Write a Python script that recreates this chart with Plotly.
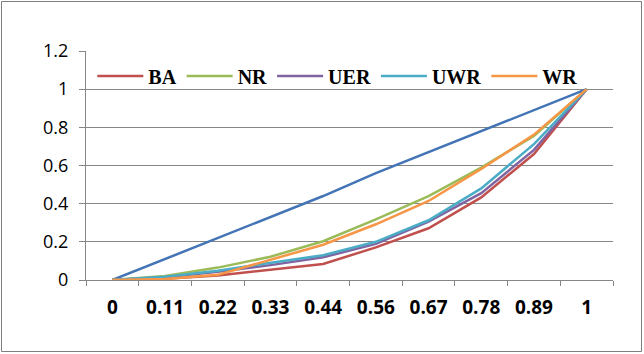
import plotly.graph_objects as go

# Cumulative population share (category labels on the x axis)
categories = ["0", "0.11", "0.22", "0.33", "0.44", "0.56", "0.67", "0.78", "0.89", "1"]

# Line of perfect equality
equality = [0, 0.11, 0.22, 0.33, 0.44, 0.56, 0.67, 0.78, 0.89, 1]

# Lorenz curves for each scheme
ba = [0, 0.007, 0.024, 0.055, 0.084, 0.171, 0.271, 0.433, 0.660, 1]
nr = [0, 0.021, 0.065, 0.122, 0.203, 0.318, 0.440, 0.589, 0.755, 1]
uer = [0, 0.014, 0.043, 0.078, 0.119, 0.189, 0.306, 0.455, 0.682, 1]
uwr = [0, 0.017, 0.049, 0.090, 0.130, 0.200, 0.313, 0.480, 0.712, 1]
wr = [0, 0.005, 0.027, 0.105, 0.185, 0.292, 0.414, 0.582, 0.762, 1]

series = [
    ("BA", ba, "#C0504D"),
    ("NR", nr, "#9BBB59"),
    ("UER", uer, "#8064A2"),
    ("UWR", uwr, "#4BACC6"),
    ("WR", wr, "#F79646"),
]

W, H = 644, 354
ML, MR, MT, MB = 86, 31, 51, 74

fig = go.Figure()
fig.add_trace(go.Scatter(
    x=categories, y=equality, mode="lines", name="Equality",
    line=dict(color="#4374B5", width=2.5), showlegend=False,
))
for name, vals, color in series:
    fig.add_trace(go.Scatter(
        x=categories, y=vals, mode="lines", name=name,
        line=dict(color=color, width=2.5),
    ))

# Outer chart border, expressed in paper units around the plot area
pw, ph = W - ML - MR, H - MT - MB
fig.add_shape(
    type="rect", xref="paper", yref="paper", layer="above",
    x0=(1.5 - ML) / pw, x1=(641.5 - ML) / pw,
    y0=(H - MB - 351.5) / ph, y1=(H - MB - 1.5) / ph,
    line=dict(color="#7F7F7F", width=1), fillcolor="rgba(0,0,0,0)",
)

fig.update_layout(
    width=W, height=H,
    margin=dict(l=ML, r=MR, t=MT, b=MB),
    paper_bgcolor="white", plot_bgcolor="white",
    showlegend=True,
    legend=dict(
        orientation="h", x=0.012, y=(H - MB - 76) / ph, xanchor="left", yanchor="middle",
        bgcolor="rgba(0,0,0,0)",
        font=dict(family="Liberation Serif", size=20, color="black", weight="bold"),
        itemwidth=46, tracegroupgap=0,
    ),
    xaxis=dict(
        type="category", tickson="boundaries",
        ticks="outside", ticklen=5, tickcolor="#868686",
        ticklabelstandoff=10,
        showgrid=False, showline=True, linecolor="#868686", linewidth=1,
        tickfont=dict(family="Open Sans", size=19, color="black", weight="bold"),
        range=[-0.5, 9.5], fixedrange=True,
    ),
    yaxis=dict(
        range=[0, 1.2], dtick=0.2, tickformat="~g",
        ticks="outside", ticklen=6, tickcolor="#868686",
        ticklabelstandoff=7,
        showgrid=True, gridcolor="#868686", gridwidth=1,
        showline=True, linecolor="#868686", linewidth=1,
        zeroline=False,
        tickfont=dict(family="Open Sans", size=18, color="black"),
        fixedrange=True,
    ),
)

fig.write_html("out.html")
